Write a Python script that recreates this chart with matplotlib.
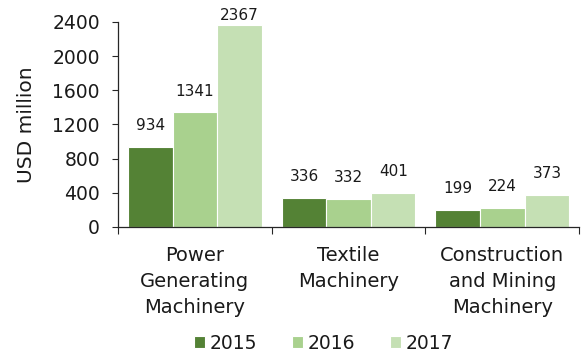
import matplotlib
matplotlib.use("Agg")
import matplotlib.pyplot as plt
import numpy as np

categories = ["Power\nGenerating\nMachinery", "Textile\nMachinery", "Construction\nand Mining\nMachinery"]
years = ["2015", "2016", "2017"]
values_2015 = [934, 336, 199]
values_2016 = [1341, 332, 224]
values_2017 = [2367, 401, 373]
colors = ["#548235", "#A9D18E", "#C5E0B4"]
yticks = [0, 400, 800, 1200, 1600, 2000, 2400]

plt.rcParams["font.family"] = ["DejaVu Sans"]
TXT = "#1a1a1a"

fig = plt.figure(figsize=(5.81, 3.54), dpi=100)
ax = fig.add_axes([0.203, 0.359, 0.794, 0.579])

series = [values_2015, values_2016, values_2017]
x = np.arange(len(categories))
width = 0.29
for i, (vals, yr, col) in enumerate(zip(series, years, colors)):
    pos = x + (i - 1) * width
    ax.bar(pos, vals, width, color=col, edgecolor="white", linewidth=0.8, label=yr)
    for xp, v in zip(pos, vals):
        off = 10 if v + 300 < 2400 else 1
        ax.annotate(str(v), (xp, v), xytext=(0, off), textcoords="offset points",
                    ha="center", va="bottom", fontsize=11, color=TXT)

ax.set_xlim(-0.5, 2.5)
ax.set_ylim(0, 2400)
ax.set_yticks(yticks)
ax.set_yticklabels([str(t) for t in yticks], fontsize=13.5, color=TXT)
ax.set_ylabel("USD million", fontsize=14.5, color=TXT, labelpad=12)

ax.set_xticks([-0.5, 0.5, 1.5, 2.5])
ax.set_xticklabels([])
ax.set_xticks(x, minor=True)
ax.set_xticklabels(categories, minor=True, fontsize=14, color=TXT, linespacing=1.45)
ax.tick_params(axis="x", which="minor", length=0, pad=14)
ax.tick_params(axis="x", which="major", length=5, direction="out", color="#262626")
ax.tick_params(axis="y", length=4, direction="out", color="#262626", pad=9)

for s in ["top", "right"]:
    ax.spines[s].set_visible(False)
for s in ["left", "bottom"]:
    ax.spines[s].set_color("#262626")
    ax.spines[s].set_linewidth(0.9)

leg = fig.legend(loc="center", bbox_to_anchor=(0.557, 0.031), ncol=3, frameon=False,
                 fontsize=13.5, handlelength=0.55, handleheight=0.55, columnspacing=1.9,
                 handletextpad=0.25)
for t in leg.get_texts():
    t.set_color(TXT)

fig.savefig("out.png", dpi=100)
